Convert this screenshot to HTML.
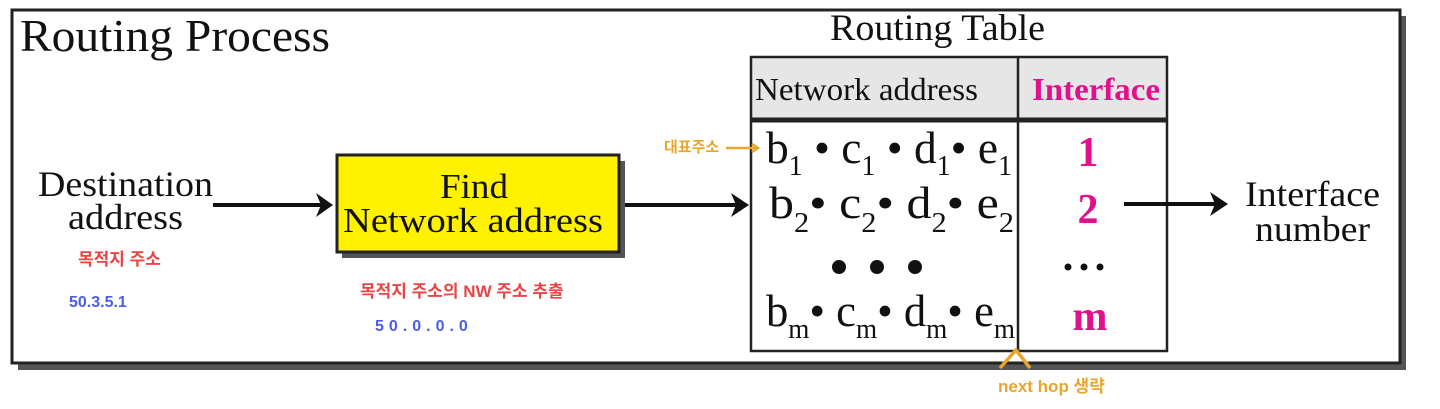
<!DOCTYPE html>
<html><head><meta charset="utf-8"><style>
html,body{margin:0;padding:0;background:#fff;}
svg{display:block}
.s{font-family:"Liberation Serif",serif;fill:#111}
.k{font-family:"Liberation Sans","Noto Sans CJK KR",sans-serif;font-weight:bold}
</style></head><body>
<svg width="1440" height="409" viewBox="0 0 1440 409" xmlns="http://www.w3.org/2000/svg">
<rect x="18" y="16" width="1388" height="354" fill="#555"/>
<rect x="12" y="10" width="1388" height="353" fill="#fff" stroke="#222" stroke-width="3"/>
<text class="s" x="20" y="51" font-size="46" textLength="310" lengthAdjust="spacingAndGlyphs">Routing Process</text>
<text class="s" x="830" y="40" font-size="37" textLength="215" lengthAdjust="spacingAndGlyphs">Routing Table</text>
<text class="s" x="38" y="196" font-size="36" textLength="175" lengthAdjust="spacingAndGlyphs">Destination</text>
<text class="s" x="68" y="229" font-size="36" textLength="115" lengthAdjust="spacingAndGlyphs">address</text>
<line x1="213" y1="205" x2="330" y2="205" stroke="#111" stroke-width="4"/>
<path d="M316,193 L333,205 L316,217 L321,205z" fill="#111"/>
<rect x="342" y="161" width="283" height="97" fill="#555"/>
<rect x="337" y="155" width="282" height="97" fill="#fff200" stroke="#222" stroke-width="3"/>
<text class="s" x="440" y="198" font-size="35" textLength="68" lengthAdjust="spacingAndGlyphs">Find</text>
<text class="s" x="343" y="232" font-size="35" textLength="260" lengthAdjust="spacingAndGlyphs">Network address</text>
<line x1="625" y1="205" x2="745" y2="205" stroke="#111" stroke-width="4"/>
<path d="M731,193 L749,205 L731,217 L736,205z" fill="#111"/>
<rect x="751" y="57" width="416" height="62" fill="#e6e6e7"/>
<rect x="751" y="57" width="416" height="294" fill="none" stroke="#222" stroke-width="2.5"/>
<line x1="751" y1="120" x2="1167" y2="120" stroke="#222" stroke-width="5"/>
<line x1="1018" y1="57" x2="1018" y2="351" stroke="#222" stroke-width="2.5"/>
<text class="s" x="755" y="100" font-size="32" textLength="223" lengthAdjust="spacingAndGlyphs">Network address</text>
<text x="1032" y="100" font-family="Liberation Serif,serif" font-size="32" font-weight="bold" fill="#e0118c" textLength="128" lengthAdjust="spacingAndGlyphs">Interface</text>
<g class="s" font-size="46">
<text x="766" y="163" textLength="246" lengthAdjust="spacingAndGlyphs">b<tspan font-size="28" dy="12">1</tspan><tspan dy="-12"> • c</tspan><tspan font-size="28" dy="12">1</tspan><tspan dy="-12"> • d</tspan><tspan font-size="28" dy="12">1</tspan><tspan dy="-12">• e</tspan><tspan font-size="28" dy="12">1</tspan></text>
<text x="769" y="218" textLength="245" lengthAdjust="spacingAndGlyphs">b<tspan font-size="28" dy="14">2</tspan><tspan dy="-14">• c</tspan><tspan font-size="28" dy="14">2</tspan><tspan dy="-14">• d</tspan><tspan font-size="28" dy="14">2</tspan><tspan dy="-14">• e</tspan><tspan font-size="28" dy="14">2</tspan></text>
<text x="766" y="326" textLength="249" lengthAdjust="spacingAndGlyphs">b<tspan font-size="28" dy="12">m</tspan><tspan dy="-12">• c</tspan><tspan font-size="28" dy="12">m</tspan><tspan dy="-12">• d</tspan><tspan font-size="28" dy="12">m</tspan><tspan dy="-12">• e</tspan><tspan font-size="28" dy="12">m</tspan></text>
</g>
<circle cx="839" cy="267" r="7" fill="#111"/><circle cx="877" cy="267" r="7" fill="#111"/><circle cx="915" cy="267" r="7" fill="#111"/>
<g font-family="Liberation Serif,serif" font-weight="bold" fill="#e0118c" font-size="42" text-anchor="middle">
<text x="1088" y="166">1</text><text x="1088" y="223">2</text><text x="1090" y="330">m</text>
</g>
<circle cx="1068" cy="267" r="3.5" fill="#111"/><circle cx="1084" cy="267" r="3.5" fill="#111"/><circle cx="1100" cy="267" r="3.5" fill="#111"/>
<line x1="1124" y1="204" x2="1215" y2="204" stroke="#111" stroke-width="4"/>
<path d="M1210,192 L1228,204 L1210,216 L1215,204z" fill="#111"/>
<text class="s" x="1245" y="206" font-size="36" textLength="135" lengthAdjust="spacingAndGlyphs">Interface</text>
<text class="s" x="1255" y="241" font-size="36" textLength="115" lengthAdjust="spacingAndGlyphs">number</text>
<text class="k" x="664" y="152" font-size="15" fill="#e8a72c">대표주소</text>
<path d="M726,148 L758,148 M752,144 L758,148 L752,152" stroke="#e8a72c" stroke-width="2.5" fill="none"/>
<text class="k" x="78" y="265" font-size="17" fill="#e84545">목적지 주소</text>
<text class="k" x="69" y="307" font-size="16" fill="#4a5ee8">50.3.5.1</text>
<text class="k" x="360" y="297" font-size="17" fill="#e84545">목적지 주소의  NW 주소 추출</text>
<text class="k" x="375" y="331" font-size="16" fill="#4a5ee8" letter-spacing="5">50.0.0.0</text>
<path d="M1000,368 L1016,350 L1030,368" stroke="#e8a72c" stroke-width="3.5" fill="none"/>
<text class="k" x="998" y="392" font-size="17" fill="#e8a72c">next hop 생략</text>
</svg>
</body></html>
